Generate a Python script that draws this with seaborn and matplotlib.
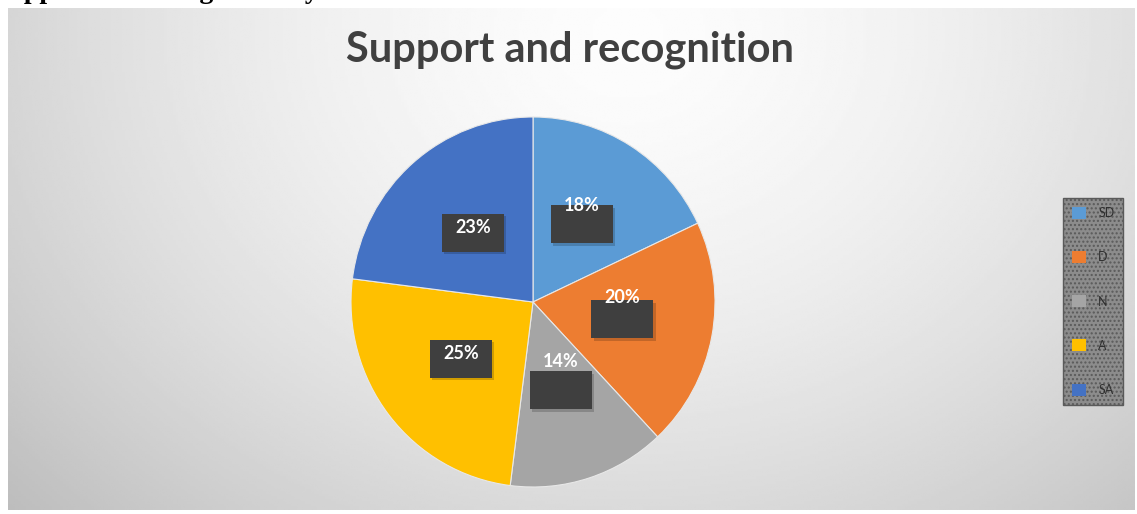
import numpy as np
import matplotlib
matplotlib.use("Agg")
import matplotlib.pyplot as plt
import seaborn as sns
from matplotlib.patches import Rectangle

categories = ["SD", "D", "N", "A", "SA"]
values = [18, 20, 14, 25, 23]
pct_labels = ["18%", "20%", "14%", "25%", "23%"]
colors = ["#5B9BD5", "#ED7D31", "#A5A5A5", "#FFC000", "#4472C4"]
text_lift = [0.10, 0.12, 0.155, 0.03, 0.03]
title = "Support and recognition"
page_text = "Support and recognition by"

sns.set_theme(style="white")
plt.rcParams["font.family"] = ["Lato", "DejaVu Sans"]

W, H = 1137, 514
fig = plt.figure(figsize=(W / 100, H / 100), dpi=100)
fig.patch.set_facecolor("white")

# background gradient panel
bg = fig.add_axes([8 / W, 4 / H, (W - 10) / W, (H - 12) / H])
yy, xx = np.mgrid[0:1:200j, 0:1:400j]
d = np.sqrt(((xx - 0.55) / 0.75) ** 2 + ((yy - 0.05) / 1.4) ** 2)
shade = 0.99 - 0.25 * np.clip(d, 0, 1.2) ** 1.6
bg.imshow(shade, cmap="gray", vmin=0, vmax=1, aspect="auto", extent=[0, 1, 1, 0])
bg.set_axis_off()

# clipped page text at very top
fig.text(-0.006, 1 + 1.5 / H, page_text, fontsize=20, fontweight="bold",
         family="Liberation Serif", color="black", va="baseline", ha="left")

# title
fig.text(570 / W, 1 - 50 / H, title, fontsize=30, fontweight="bold",
         color="#404040", ha="center", va="center")

# pie
RX, RY = 182, 185
cx, cy = 533, 302
pad = 10
ax = fig.add_axes([(cx - RX - pad) / W, (H - cy - RY - pad) / H,
                   (2 * RX + 2 * pad) / W, (2 * RY + 2 * pad) / H])
ax.set_facecolor("none")
wedges, _ = ax.pie(values, colors=colors, startangle=90, counterclock=False,
                   radius=1, wedgeprops=dict(linewidth=0.8, edgecolor="#e8e8e8"))
ax.set_xlim(-1 - pad / RX, 1 + pad / RX)
ax.set_ylim(-1 - pad / RY, 1 + pad / RY)
ax.set_aspect("auto")
ax.set_axis_off()

bw, bh = 62 / RX, 38 / RY
for w, lab, lift in zip(wedges, pct_labels, text_lift):
    ang = np.deg2rad((w.theta1 + w.theta2) / 2)
    x, y = 0.5 * np.cos(ang), 0.5 * np.sin(ang)
    ax.add_patch(Rectangle((x - bw / 2 + 0.012, y - bh / 2 - 0.015), bw, bh,
                           facecolor="#000000", alpha=0.18, edgecolor="none", zorder=3))
    ax.add_patch(Rectangle((x - bw / 2, y - bh / 2), bw, bh,
                           facecolor="#3f3f3f", edgecolor="none", zorder=4))
    ax.text(x, y + lift, lab, color="white", fontsize=13, fontweight="bold",
            ha="center", va="center", zorder=5)

# legend
handles = [Rectangle((0, 0), 1, 1, facecolor=c, edgecolor="none") for c in colors]
leg = fig.legend(handles, categories, loc="upper left",
                 bbox_to_anchor=(1057 / W, 1 - 192 / H), fontsize=9,
                 frameon=True, labelspacing=2.55, handlelength=1.1, handleheight=1.1,
                 handletextpad=1.0, borderpad=0.7, fancybox=False)
fr = leg.get_frame()
fr.set_facecolor("#8c8c8c")
fr.set_edgecolor("#5a5a5a")
fr.set_hatch("....")
fr.set_alpha(1)
for t in leg.get_texts():
    t.set_color("#2f2f2f")

fig.savefig("out.png", dpi=100)
